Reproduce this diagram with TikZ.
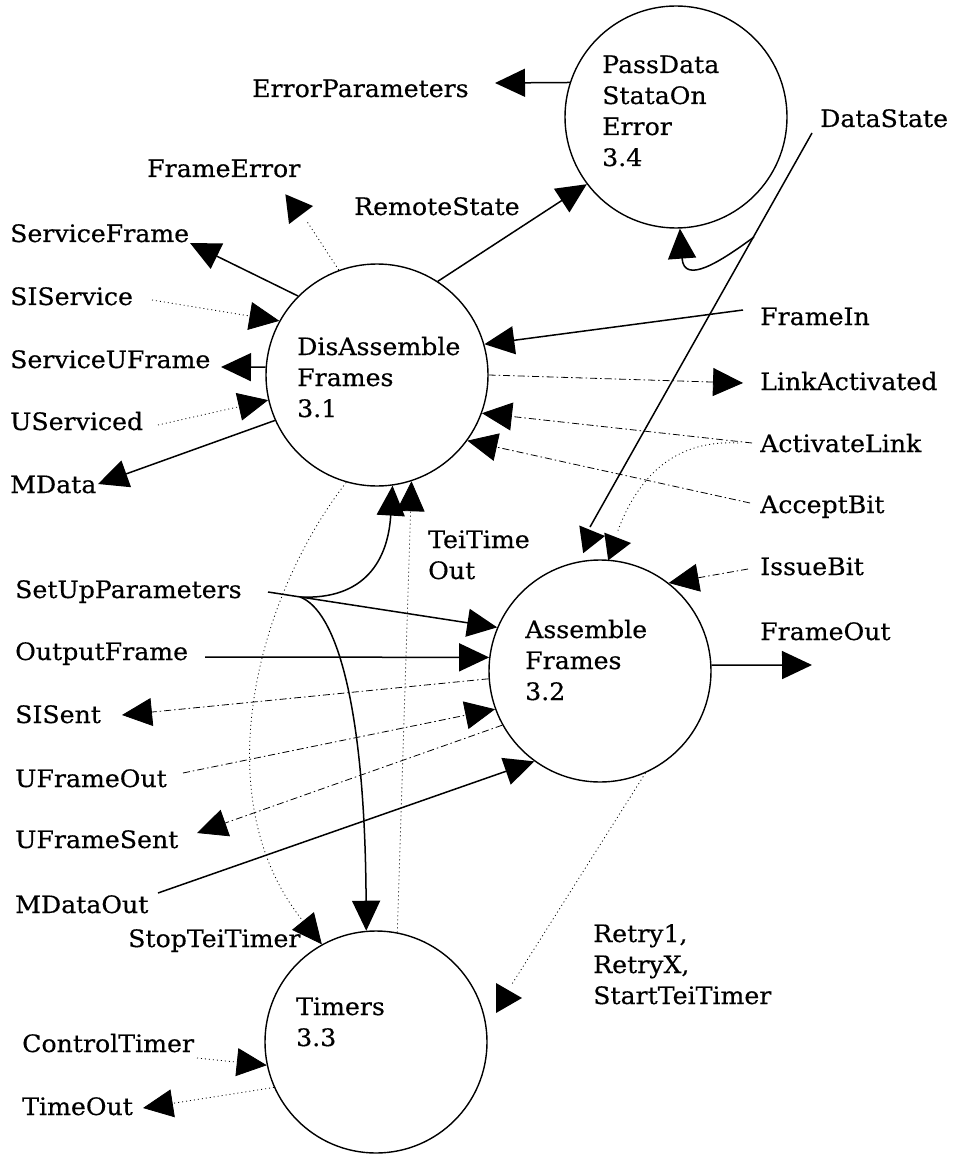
\documentclass[tikz,border=0pt]{standalone}
\usepackage{fontspec}
\setmainfont{DejaVu Serif}[FakeStretch=1.05,FakeBold=0.4]
\usetikzlibrary{arrows.meta}
\newcommand\mlines[1]{\begin{tabular}[t]{@{}l@{}}#1\end{tabular}}
\tikzset{
  proc/.style={circle,draw,line width=1.4pt,minimum size=222pt,inner sep=0pt},
  lbl/.style={anchor=base west,inner sep=0pt,font=\fontsize{24}{31}\selectfont},
  tip/.style={-{Triangle[length=30pt,width=28pt]}},
  sflow/.style={tip,line width=1.5pt},
  dflow/.style={tip,line width=0.8pt,dash pattern=on 1pt off 3pt},
  ddflow/.style={tip,line width=0.8pt,dash pattern=on 7pt off 3pt on 1.5pt off 3pt},
  dline/.style={line width=0.8pt,dash pattern=on 1pt off 3pt},
}
\begin{document}
\begin{tikzpicture}[x=1pt,y=-1pt]
\useasboundingbox (0,0) rectangle (954,1155);
% processes
\node[proc] (C34) at (676,117) {};
\node[proc] (C31) at (377,375) {};
\node[proc] (C32) at (600,671) {};
\node[proc] (C33) at (376,1042) {};
\node[lbl] (T34) at (602,73) {\mlines{PassData\\StataOn\\Error\\3.4}};
\node[lbl] (T31) at (297,355) {\mlines{DisAssemble\\Frames\\3.1}};
\node[lbl] (T32) at (525,638) {\mlines{Assemble\\Frames\\3.2}};
\node[lbl] (T33) at (296,1015) {\mlines{Timers\\3.3}};
% labels
\node[lbl] (lEP) at (252,97) {ErrorParameters};
\node[lbl] (lFE) at (147,177) {FrameError};
\node[lbl] (lRS) at (354,215) {RemoteState};
\node[lbl] (lSF) at (10,242) {ServiceFrame};
\node[lbl] (lSI) at (10,305) {SIService};
\node[lbl] (lSU) at (10,368) {ServiceUFrame};
\node[lbl] (lUS) at (10,430) {UServiced};
\node[lbl] (lMD) at (10,493) {MData};
\node[lbl] (lDS) at (820,127) {DataState};
\node[lbl] (lFI) at (760,325) {FrameIn};
\node[lbl] (lLA) at (760,390) {LinkActivated};
\node[lbl] (lAL) at (760,452) {ActivateLink};
\node[lbl] (lAB) at (760,513) {AcceptBit};
\node[lbl] (lIB) at (760,575) {IssueBit};
\node[lbl] (lTT) at (428,548) {\mlines{TeiTime\\Out}};
\node[lbl] (lFO) at (760,640) {FrameOut};
\node[lbl] (lSP) at (15,598) {SetUpParameters};
\node[lbl] (lOF) at (15,660) {OutputFrame};
\node[lbl] (lSS) at (15,723) {SISent};
\node[lbl] (lUO) at (15,787) {UFrameOut};
\node[lbl] (lUF) at (15,848) {UFrameSent};
\node[lbl] (lMO) at (15,913) {MDataOut};
\node[lbl] (lST) at (128,947) {StopTeiTimer};
\node[lbl] (lCT) at (22,1052) {ControlTimer};
\node[lbl] (lTO) at (22,1115) {TimeOut};
\node[lbl] (lRT) at (593,942) {\mlines{Retry1,\\RetryX,\\StartTeiTimer}};
% free ends
\coordinate (EPt) at (495,83);
\coordinate (FEe) at (306,220);
\coordinate (SFt) at (190,243);
\coordinate (SIs) at (152,300);
\coordinate (SUFt) at (221,367);
\coordinate (USs) at (158,425);
\coordinate (MDt) at (98,484);
\coordinate (DSs) at (812,133);
\coordinate (DSe) at (590,527);
\coordinate (DSb) at (754,237);
\coordinate (FIs) at (743,310);
\coordinate (LAt) at (743,383);
\coordinate (ALs) at (752,443);
\coordinate (ALb) at (738,443);
\coordinate (ALe) at (617,533);
\coordinate (ABs) at (750,503);
\coordinate (IBs) at (748,569);
\coordinate (FOt) at (812,665);
\coordinate (SUs) at (268,592);
\coordinate (SUb) at (300,597);
\coordinate (OFs) at (205,657);
\coordinate (SSt) at (122,715);
\coordinate (UOs) at (183,773);
\coordinate (UFt) at (197,833);
\coordinate (MOs) at (158,893);
\coordinate (RTe) at (512,984);
\coordinate (CTs) at (197,1058);
\coordinate (TOt) at (143,1108);
% connectors
\draw[sflow] (C34.162) -- (EPt);
\draw[sflow] (C31.57) -- (C34.217);
\draw[dline] (C31.110) -- (FEe);
\fill[shift={(313,206)},rotate=7] (0,0) -- (-26,-15) -- (-26,15) -- cycle;
\draw[sflow] (C31.135) -- (SFt);
\draw[dflow] (SIs) -- (C31.151);
\draw[sflow] (C31.176) -- (SUFt);
\draw[dflow] (USs) -- (C31.193);
\draw[sflow] (C31.204) -- (MDt);
\draw[sflow] (FIs) -- (C31.16);
\draw[ddflow] (C31.0) -- (LAt);
\draw[ddflow] (ALs) -- (C31.-20);
\draw[ddflow] (ABs) -- (C31.-36);
\draw[line width=1.5pt] (DSs) -- (DSe);
\fill[shift={(605,536)},rotate=8] (0,0) -- (-24,-14) -- (-24,14) -- cycle;
\draw[sflow] (DSb) .. controls (720,262) and (684,285) .. (C34.-88);
\draw[dline] (ALb) .. controls (680,440) and (640,470) .. (ALe);
\fill[shift={(631,543)},rotate=8] (0,0) -- (-25,-14) -- (-25,14) -- cycle;
\draw[ddflow] (IBs) -- (C32.52);
\draw[sflow] (C32.3) -- (FOt);
\draw[sflow] (SUs) -- (C32.157);
\draw[sflow] (SUb) .. controls (365,600) and (388,560) .. (C31.-82);
\draw[sflow] (SUb) .. controls (335,610) and (365,700) .. (C33.95);
\draw[sflow] (OFs) -- (C32.173);
\draw[ddflow] (C32.-176) -- (SSt);
\draw[ddflow] (UOs) -- (C32.-160);
\draw[ddflow] (C32.-151) -- (UFt);
\draw[sflow] (MOs) -- (C32.-126);
\draw[dline] (C32.-66) -- (RTe);
\fill[shift={(522,998)},rotate=0] (0,0) -- (-26,-15) -- (-26,15) -- cycle;
\draw[dflow] (C33.79) -- (C31.-72);
\draw[dflow] (C31.-106) .. controls (255,600) and (205,800) .. (C33.119);
\draw[dflow] (CTs) -- (C33.-168);
\draw[dflow] (C33.-156) -- (TOt);
\end{tikzpicture}
\end{document}
